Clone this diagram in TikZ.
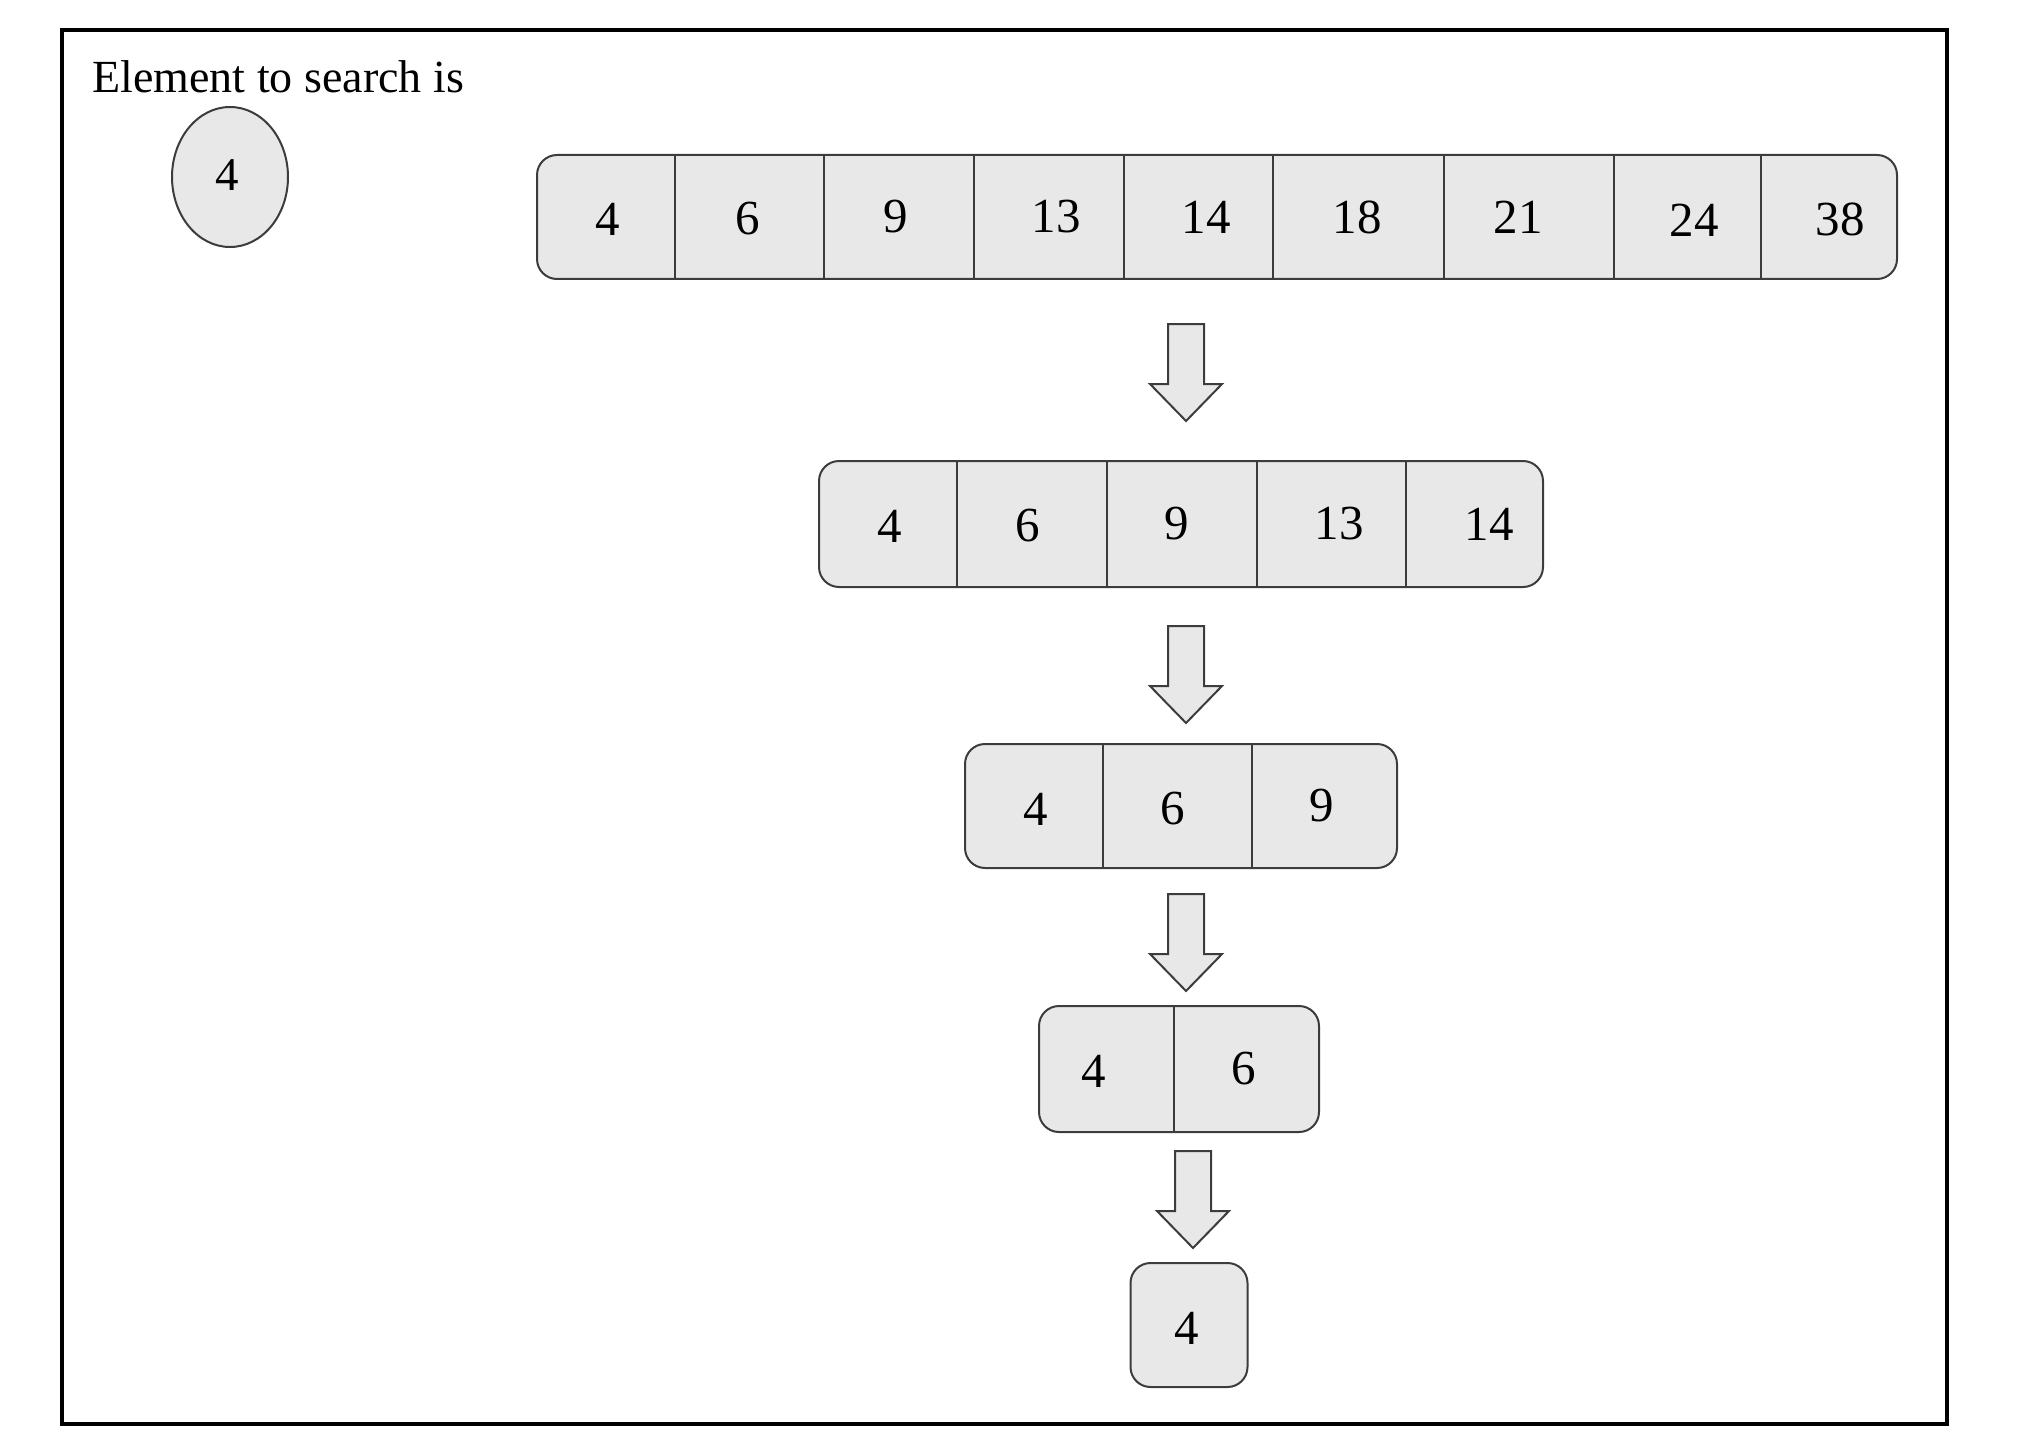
\documentclass[tikz,border=0pt]{standalone}
\usepackage{fontspec}
\setmainfont{Liberation Serif}
\usetikzlibrary{shapes.geometric}
\definecolor{edge}{HTML}{3C3C3C}
\definecolor{cellfill}{HTML}{E8E8E8}
\begin{document}
\begin{tikzpicture}[x=1pt,y=-1pt,
  cellbox/.style={draw=edge, fill=cellfill, line width=2pt, rounded corners=20pt, inner sep=0pt},
  divider/.style={draw=edge, line width=2pt},
  num/.style={font=\fontsize{49}{56}\selectfont, inner sep=0pt},
  blockarrow/.style={draw=edge, fill=cellfill, line width=2pt, line join=miter}]
\useasboundingbox (0,0) rectangle (2023,1455);
\draw[line width=3.5pt] (62,30) rectangle (1947,1424);
\node[anchor=base west, inner sep=0pt, font=\fontsize{46}{56}\selectfont] (title) at (92,93) {Element to search is};
\node[draw=edge, fill=cellfill, line width=2pt, ellipse, minimum width=116pt, minimum height=140pt, inner sep=0pt] (key) at (230,177) {};
\node[inner sep=0pt, font=\fontsize{47}{54}\selectfont] (keynum) at (227,175) {4};

% array 1
\node[cellbox, minimum width=1360pt, minimum height=124pt] (a1) at (1217,217) {};
\foreach \x in {675,824,974,1124,1273,1444,1614,1761} \draw[divider] (\x,155) -- (\x,279);
\node[num] (a1c1) at (608,219) {4};
\node[num] (a1c2) at (748,219) {6};
\node[num] (a1c3) at (896,217) {9};
\node[num] (a1c4) at (1056,217) {13};
\node[num] (a1c5) at (1206,217) {14};
\node[num] (a1c6) at (1357,217) {18};
\node[num] (a1c7) at (1518,217) {21};
\node[num] (a1c8) at (1694,220) {24};
\node[num] (a1c9) at (1840,219) {38};

% array 2
\node[cellbox, minimum width=724pt, minimum height=126pt] (a2) at (1181,524) {};
\foreach \x in {957,1107,1257,1406} \draw[divider] (\x,461) -- (\x,587);
\node[num] (a2c1) at (890,526) {4};
\node[num] (a2c2) at (1028,526) {6};
\node[num] (a2c3) at (1177,524) {9};
\node[num] (a2c4) at (1339,524) {13};
\node[num] (a2c5) at (1489,524) {14};

% array 3
\node[cellbox, minimum width=432pt, minimum height=124pt] (a3) at (1181,806) {};
\foreach \x in {1103,1252} \draw[divider] (\x,744) -- (\x,868);
\node[num] (a3c1) at (1036,809) {4};
\node[num] (a3c2) at (1173,809) {6};
\node[num] (a3c3) at (1322,806) {9};

% array 4
\node[cellbox, minimum width=280pt, minimum height=126pt] (a4) at (1179,1069) {};
\draw[divider] (1174,1006) -- (1174,1132);
\node[num] (a4c1) at (1094,1071) {4};
\node[num] (a4c2) at (1244,1069) {6};

% result
\node[cellbox, minimum width=117pt, minimum height=124pt] (res) at (1189,1325) {};
\node[num] (resnum) at (1187,1328) {4};

% block arrows
\foreach \cx/\top in {1186/324, 1186/626, 1186/894, 1193/1151}
  \draw[blockarrow] (\cx-18,\top) -- (\cx+18,\top) -- (\cx+18,\top+60) -- (\cx+36,\top+60)
     -- (\cx,\top+97) -- (\cx-36,\top+60) -- (\cx-18,\top+60) -- cycle;
\end{tikzpicture}
\end{document}
